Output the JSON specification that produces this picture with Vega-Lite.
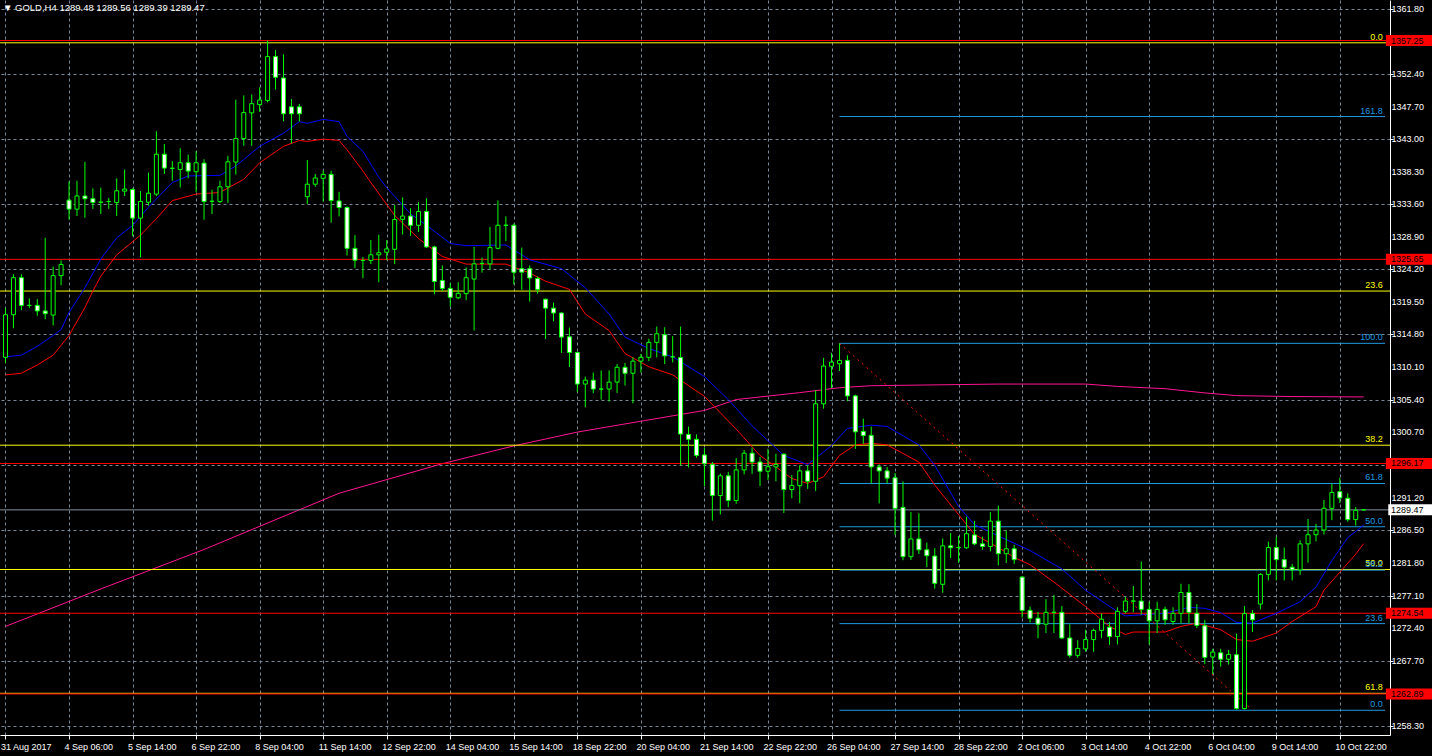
{
"$schema":"https://vega.github.io/schema/vega-lite/v6.json",
"width":1390,"height":735,
"autosize":{"type":"none"},
"padding":{"left":0,"top":0,"right":42,"bottom":21},
"background":"#000000",
"config":{"view":{"stroke":null}},
"title":{"text":"▼ GOLD,H4  1289.48 1289.56 1289.39 1289.47","anchor":"start","frame":"group","offset":-12,"dx":3,"color":"#ffffff","font":"Liberation Sans","fontSize":9.5,"fontWeight":"normal"},
"datasets":{
"candles":[
{"i":0,"o":1311.5,"h":1318.65,"l":1310.67,"c":1317.65},
{"i":1,"o":1317.65,"h":1323.5,"l":1315.7,"c":1323.0},
{"i":2,"o":1323.0,"h":1323.5,"l":1318.3,"c":1319.0},
{"i":3,"o":1319.0,"h":1320.0,"l":1318.6,"c":1319.0},
{"i":4,"o":1319.0,"h":1319.9,"l":1317.5,"c":1318.2},
{"i":5,"o":1318.2,"h":1328.76,"l":1317.0,"c":1317.8},
{"i":6,"o":1317.6,"h":1324.6,"l":1316.1,"c":1323.3},
{"i":7,"o":1323.3,"h":1325.5,"l":1321.9,"c":1324.9},
{"i":8,"o":1334.2,"h":1336.88,"l":1331.4,"c":1332.9},
{"i":9,"o":1332.9,"h":1337.0,"l":1331.9,"c":1334.8},
{"i":10,"o":1334.8,"h":1339.73,"l":1331.66,"c":1334.4},
{"i":11,"o":1334.4,"h":1335.9,"l":1332.94,"c":1333.85},
{"i":12,"o":1333.9,"h":1336.0,"l":1332.2,"c":1333.9},
{"i":13,"o":1334.0,"h":1334.5,"l":1332.94,"c":1334.0},
{"i":14,"o":1333.85,"h":1337.35,"l":1331.9,"c":1335.55},
{"i":15,"o":1335.5,"h":1338.63,"l":1334.8,"c":1335.8},
{"i":16,"o":1335.74,"h":1335.9,"l":1329.0,"c":1331.6},
{"i":17,"o":1331.6,"h":1335.5,"l":1325.96,"c":1334.0},
{"i":18,"o":1333.9,"h":1338.17,"l":1333.4,"c":1335.2},
{"i":19,"o":1335.07,"h":1344.15,"l":1334.8,"c":1340.83},
{"i":20,"o":1340.83,"h":1342.3,"l":1337.98,"c":1338.83},
{"i":21,"o":1338.8,"h":1339.83,"l":1337.0,"c":1338.8},
{"i":22,"o":1338.63,"h":1341.68,"l":1336.03,"c":1339.6},
{"i":23,"o":1339.6,"h":1340.77,"l":1337.35,"c":1338.4},
{"i":24,"o":1338.3,"h":1341.25,"l":1335.36,"c":1339.6},
{"i":25,"o":1339.55,"h":1340.1,"l":1331.37,"c":1333.99},
{"i":26,"o":1334.03,"h":1335.7,"l":1332.2,"c":1334.03},
{"i":27,"o":1333.99,"h":1337.0,"l":1333.8,"c":1336.13},
{"i":28,"o":1336.13,"h":1340.6,"l":1333.8,"c":1339.73},
{"i":29,"o":1339.7,"h":1348.7,"l":1337.88,"c":1343.1},
{"i":30,"o":1343.1,"h":1349.32,"l":1342.05,"c":1346.84},
{"i":31,"o":1346.8,"h":1349.46,"l":1342.05,"c":1348.13},
{"i":32,"o":1348.0,"h":1350.5,"l":1346.95,"c":1348.66},
{"i":33,"o":1348.6,"h":1357.25,"l":1348.32,"c":1354.93},
{"i":34,"o":1354.93,"h":1355.87,"l":1350.17,"c":1351.94},
{"i":35,"o":1351.84,"h":1355.26,"l":1345.6,"c":1346.67},
{"i":36,"o":1347.67,"h":1348.8,"l":1342.4,"c":1346.67},
{"i":37,"o":1347.67,"h":1348.1,"l":1345.57,"c":1346.67},
{"i":38,"o":1334.7,"h":1340.0,"l":1333.65,"c":1336.5},
{"i":39,"o":1336.5,"h":1337.97,"l":1336.13,"c":1337.4},
{"i":40,"o":1337.35,"h":1338.5,"l":1334.0,"c":1337.92},
{"i":41,"o":1337.92,"h":1338.45,"l":1330.94,"c":1334.13},
{"i":42,"o":1334.08,"h":1335.4,"l":1331.85,"c":1333.13},
{"i":43,"o":1333.13,"h":1333.3,"l":1326.2,"c":1327.24},
{"i":44,"o":1327.24,"h":1329.15,"l":1324.39,"c":1325.53},
{"i":45,"o":1325.48,"h":1326.0,"l":1322.92,"c":1325.48},
{"i":46,"o":1325.5,"h":1328.44,"l":1324.96,"c":1326.3},
{"i":47,"o":1326.3,"h":1329.19,"l":1322.35,"c":1326.6},
{"i":48,"o":1326.67,"h":1328.44,"l":1325.53,"c":1327.16},
{"i":49,"o":1327.1,"h":1333.5,"l":1324.96,"c":1331.4},
{"i":50,"o":1331.43,"h":1334.6,"l":1329.23,"c":1331.9},
{"i":51,"o":1331.9,"h":1333.04,"l":1329.05,"c":1330.57},
{"i":52,"o":1330.57,"h":1333.9,"l":1329.6,"c":1332.56},
{"i":53,"o":1332.56,"h":1334.46,"l":1327.3,"c":1327.44},
{"i":54,"o":1327.44,"h":1327.6,"l":1320.6,"c":1322.45},
{"i":55,"o":1322.6,"h":1324.77,"l":1321.07,"c":1321.45},
{"i":56,"o":1321.45,"h":1322.25,"l":1318.83,"c":1320.17},
{"i":57,"o":1320.1,"h":1322.35,"l":1319.89,"c":1320.74},
{"i":58,"o":1320.7,"h":1324.49,"l":1319.75,"c":1323.0},
{"i":59,"o":1322.8,"h":1327.44,"l":1315.37,"c":1325.0},
{"i":60,"o":1325.06,"h":1325.9,"l":1323.73,"c":1325.06},
{"i":61,"o":1325.0,"h":1330.33,"l":1324.16,"c":1327.34},
{"i":62,"o":1327.24,"h":1334.13,"l":1327.1,"c":1330.57},
{"i":63,"o":1330.57,"h":1331.85,"l":1328.29,"c":1330.57},
{"i":64,"o":1330.57,"h":1330.8,"l":1322.02,"c":1323.78},
{"i":65,"o":1324.3,"h":1327.34,"l":1321.26,"c":1323.8},
{"i":66,"o":1324.3,"h":1324.77,"l":1319.55,"c":1322.96},
{"i":67,"o":1322.88,"h":1323.2,"l":1320.68,"c":1321.31},
{"i":68,"o":1319.89,"h":1320.0,"l":1314.13,"c":1318.6},
{"i":69,"o":1318.6,"h":1319.4,"l":1316.7,"c":1317.9},
{"i":70,"o":1317.9,"h":1318.0,"l":1312.14,"c":1314.42},
{"i":71,"o":1314.47,"h":1315.8,"l":1310.1,"c":1312.2},
{"i":72,"o":1312.2,"h":1312.3,"l":1306.5,"c":1307.64},
{"i":73,"o":1307.64,"h":1308.72,"l":1304.3,"c":1308.2},
{"i":74,"o":1308.2,"h":1309.29,"l":1306.3,"c":1306.92},
{"i":75,"o":1306.92,"h":1309.6,"l":1305.4,"c":1306.92},
{"i":76,"o":1306.92,"h":1309.63,"l":1305.1,"c":1307.92},
{"i":77,"o":1307.92,"h":1310.53,"l":1306.36,"c":1310.06},
{"i":78,"o":1310.06,"h":1310.7,"l":1307.44,"c":1309.2},
{"i":79,"o":1309.2,"h":1311.5,"l":1304.87,"c":1310.95},
{"i":80,"o":1310.95,"h":1312.0,"l":1309.29,"c":1311.5},
{"i":81,"o":1311.5,"h":1314.19,"l":1310.95,"c":1313.66},
{"i":82,"o":1313.66,"h":1315.94,"l":1311.48,"c":1314.9},
{"i":83,"o":1314.76,"h":1315.84,"l":1310.53,"c":1311.71},
{"i":84,"o":1311.57,"h":1314.56,"l":1310.77,"c":1311.57},
{"i":85,"o":1311.48,"h":1315.94,"l":1295.9,"c":1300.42},
{"i":86,"o":1300.37,"h":1301.5,"l":1295.6,"c":1299.66},
{"i":87,"o":1299.66,"h":1300.37,"l":1297.0,"c":1297.33},
{"i":88,"o":1297.4,"h":1298.42,"l":1292.9,"c":1296.13},
{"i":89,"o":1296.04,"h":1296.38,"l":1287.92,"c":1291.54},
{"i":90,"o":1291.54,"h":1294.7,"l":1288.8,"c":1294.39},
{"i":91,"o":1294.39,"h":1294.96,"l":1289.87,"c":1290.83},
{"i":92,"o":1290.83,"h":1296.95,"l":1290.34,"c":1295.24},
{"i":93,"o":1295.24,"h":1298.14,"l":1294.58,"c":1297.66},
{"i":94,"o":1297.66,"h":1298.47,"l":1294.67,"c":1296.38},
{"i":95,"o":1296.38,"h":1297.1,"l":1292.9,"c":1295.05},
{"i":96,"o":1295.05,"h":1298.28,"l":1293.8,"c":1295.7},
{"i":97,"o":1295.67,"h":1297.56,"l":1293.6,"c":1296.04},
{"i":98,"o":1297.52,"h":1297.6,"l":1289.02,"c":1292.4},
{"i":99,"o":1292.4,"h":1294.5,"l":1291.15,"c":1293.0},
{"i":100,"o":1292.96,"h":1295.9,"l":1290.44,"c":1295.1},
{"i":101,"o":1295.1,"h":1295.9,"l":1292.5,"c":1293.6},
{"i":102,"o":1293.6,"h":1306.73,"l":1292.2,"c":1304.79},
{"i":103,"o":1304.79,"h":1311.42,"l":1304.08,"c":1310.24},
{"i":104,"o":1310.2,"h":1312.14,"l":1307.07,"c":1310.81},
{"i":105,"o":1310.57,"h":1313.52,"l":1309.53,"c":1311.05},
{"i":106,"o":1311.05,"h":1311.8,"l":1305.16,"c":1305.93},
{"i":107,"o":1305.93,"h":1306.1,"l":1298.28,"c":1300.74},
{"i":108,"o":1300.8,"h":1302.65,"l":1299.0,"c":1300.2},
{"i":109,"o":1300.23,"h":1301.5,"l":1293.3,"c":1295.67},
{"i":110,"o":1295.67,"h":1296.04,"l":1290.4,"c":1295.1},
{"i":111,"o":1295.1,"h":1295.67,"l":1293.3,"c":1294.05},
{"i":112,"o":1294.1,"h":1294.8,"l":1285.84,"c":1289.69},
{"i":113,"o":1289.83,"h":1293.58,"l":1282.2,"c":1282.71},
{"i":114,"o":1282.71,"h":1289.16,"l":1282.22,"c":1285.27},
{"i":115,"o":1285.27,"h":1288.97,"l":1283.08,"c":1283.7},
{"i":116,"o":1283.7,"h":1284.75,"l":1281.2,"c":1282.85},
{"i":117,"o":1282.8,"h":1283.94,"l":1278.09,"c":1278.86},
{"i":118,"o":1278.72,"h":1285.36,"l":1277.5,"c":1284.28},
{"i":119,"o":1284.28,"h":1286.13,"l":1282.5,"c":1284.0},
{"i":120,"o":1284.03,"h":1285.7,"l":1281.8,"c":1284.03},
{"i":121,"o":1284.0,"h":1288.49,"l":1283.85,"c":1286.03},
{"i":122,"o":1285.85,"h":1287.88,"l":1284.37,"c":1284.56},
{"i":123,"o":1284.56,"h":1285.6,"l":1283.7,"c":1284.18},
{"i":124,"o":1284.18,"h":1289.16,"l":1283.47,"c":1287.84},
{"i":125,"o":1287.84,"h":1290.1,"l":1281.45,"c":1283.14},
{"i":126,"o":1283.14,"h":1286.5,"l":1281.8,"c":1283.85},
{"i":127,"o":1283.85,"h":1284.42,"l":1281.66,"c":1282.28},
{"i":128,"o":1279.76,"h":1279.9,"l":1273.92,"c":1274.96},
{"i":129,"o":1274.96,"h":1275.5,"l":1273.2,"c":1273.82},
{"i":130,"o":1273.82,"h":1274.73,"l":1270.93,"c":1272.96},
{"i":131,"o":1272.96,"h":1276.58,"l":1271.69,"c":1274.67},
{"i":132,"o":1274.67,"h":1277.15,"l":1271.69,"c":1274.67},
{"i":133,"o":1274.67,"h":1275.58,"l":1270.8,"c":1270.97},
{"i":134,"o":1270.97,"h":1272.96,"l":1268.12,"c":1268.46},
{"i":135,"o":1268.46,"h":1270.64,"l":1268.12,"c":1269.46},
{"i":136,"o":1269.4,"h":1272.16,"l":1268.97,"c":1270.74},
{"i":137,"o":1270.74,"h":1272.3,"l":1268.97,"c":1272.07},
{"i":138,"o":1272.07,"h":1274.5,"l":1270.93,"c":1273.68},
{"i":139,"o":1272.54,"h":1273.3,"l":1269.97,"c":1271.17},
{"i":140,"o":1271.17,"h":1275.39,"l":1270.03,"c":1274.82},
{"i":141,"o":1274.82,"h":1276.9,"l":1274.53,"c":1276.3},
{"i":142,"o":1276.3,"h":1278.48,"l":1274.67,"c":1276.3},
{"i":143,"o":1276.3,"h":1282.04,"l":1274.34,"c":1275.1},
{"i":144,"o":1275.1,"h":1276.2,"l":1270.03,"c":1273.45},
{"i":145,"o":1273.45,"h":1276.2,"l":1271.69,"c":1275.1},
{"i":146,"o":1275.1,"h":1275.5,"l":1272.88,"c":1273.6},
{"i":147,"o":1273.35,"h":1275.39,"l":1272.88,"c":1274.53},
{"i":148,"o":1274.53,"h":1278.8,"l":1273.1,"c":1277.53},
{"i":149,"o":1277.53,"h":1278.72,"l":1273.1,"c":1274.67},
{"i":150,"o":1274.53,"h":1275.87,"l":1272.4,"c":1272.78},
{"i":151,"o":1272.73,"h":1273.59,"l":1267.2,"c":1268.17},
{"i":152,"o":1268.22,"h":1269.4,"l":1265.76,"c":1268.93},
{"i":153,"o":1268.83,"h":1269.4,"l":1266.84,"c":1267.9},
{"i":154,"o":1267.9,"h":1269.22,"l":1267.13,"c":1268.6},
{"i":155,"o":1268.55,"h":1271.6,"l":1260.63,"c":1260.77},
{"i":156,"o":1260.77,"h":1275.58,"l":1260.63,"c":1274.49},
{"i":157,"o":1274.49,"h":1275.0,"l":1271.83,"c":1273.59},
{"i":158,"o":1275.87,"h":1280.33,"l":1275.1,"c":1280.15},
{"i":159,"o":1280.15,"h":1284.88,"l":1279.28,"c":1284.03},
{"i":160,"o":1284.03,"h":1285.56,"l":1279.28,"c":1282.28},
{"i":161,"o":1282.28,"h":1284.03,"l":1279.28,"c":1281.19},
{"i":162,"o":1281.19,"h":1281.66,"l":1279.28,"c":1280.8},
{"i":163,"o":1280.8,"h":1285.07,"l":1280.09,"c":1284.56},
{"i":164,"o":1284.56,"h":1288.16,"l":1281.85,"c":1285.88},
{"i":165,"o":1285.88,"h":1287.45,"l":1284.93,"c":1286.55},
{"i":166,"o":1286.55,"h":1290.9,"l":1285.9,"c":1289.7},
{"i":167,"o":1289.69,"h":1293.25,"l":1287.98,"c":1291.97},
{"i":168,"o":1292.1,"h":1294.1,"l":1290.45,"c":1291.2},
{"i":169,"o":1291.15,"h":1291.87,"l":1287.74,"c":1288.07},
{"i":170,"o":1288.07,"h":1289.87,"l":1287.2,"c":1289.4},
{"i":171,"o":1289.48,"h":1289.56,"l":1289.39,"c":1289.47}
],
"blueMA":[
{"i":0,"v":1311.57},{"i":2,"v":1311.81},{"i":4,"v":1313.09},{"i":6,"v":1314.66},{"i":7,"v":1315.51},{"i":8,"v":1317.98},{"i":10,"v":1321.54},{"i":12,"v":1325.7},{"i":14,"v":1328.76},{"i":16,"v":1330.54},{"i":18,"v":1333.18},{"i":21,"v":1336.74},{"i":23,"v":1337.69},{"i":27,"v":1337.78},{"i":29,"v":1339.12},{"i":32,"v":1341.97},{"i":35,"v":1343.86},{"i":37,"v":1345.53},{"i":38,"v":1345.29},{"i":40,"v":1345.86},{"i":42,"v":1345.53},{"i":43,"v":1343.39},{"i":45,"v":1341.26},{"i":47,"v":1337.5},{"i":48,"v":1336.0},{"i":51,"v":1332.23},{"i":53,"v":1330.57},{"i":56,"v":1327.95},{"i":58,"v":1327.62},{"i":63,"v":1327.72},{"i":66,"v":1325.58},{"i":70,"v":1324.3},{"i":73,"v":1321.54},{"i":76,"v":1317.75},{"i":78,"v":1314.42},{"i":81,"v":1312.77},{"i":84,"v":1311.57},{"i":88,"v":1308.72},{"i":91,"v":1305.4},{"i":94,"v":1301.6},{"i":98,"v":1297.32},{"i":101,"v":1296.0},{"i":104,"v":1298.75},{"i":106,"v":1301.23},{"i":109,"v":1301.7},{"i":111,"v":1301.51},{"i":115,"v":1298.85},{"i":117,"v":1295.9},{"i":120,"v":1289.97},{"i":122,"v":1287.35},{"i":125,"v":1285.7},{"i":129,"v":1283.6},{"i":133,"v":1280.94},{"i":136,"v":1277.87},{"i":140,"v":1274.77},{"i":141,"v":1274.16},{"i":146,"v":1274.53},{"i":149,"v":1275.39},{"i":151,"v":1275.25},{"i":153,"v":1274.63},{"i":155,"v":1273.21},{"i":157,"v":1273.11},{"i":160,"v":1274.53},{"i":163,"v":1276.2},{"i":165,"v":1278.33},{"i":167,"v":1282.14},{"i":169,"v":1285.46},{"i":171,"v":1287.27}
],
"redMA":[
{"i":0,"v":1308.96},{"i":2,"v":1309.2},{"i":4,"v":1310.39},{"i":6,"v":1311.81},{"i":8,"v":1314.66},{"i":10,"v":1318.69},{"i":11,"v":1321.07},{"i":12,"v":1323.21},{"i":14,"v":1326.3},{"i":16,"v":1328.19},{"i":17,"v":1329.15},{"i":19,"v":1331.51},{"i":21,"v":1334.13},{"i":24,"v":1335.07},{"i":27,"v":1335.31},{"i":30,"v":1337.21},{"i":32,"v":1339.59},{"i":35,"v":1341.97},{"i":37,"v":1342.82},{"i":38,"v":1342.68},{"i":40,"v":1343.01},{"i":42,"v":1342.82},{"i":43,"v":1341.48},{"i":45,"v":1338.41},{"i":46,"v":1336.74},{"i":49,"v":1331.99},{"i":52,"v":1328.66},{"i":55,"v":1326.06},{"i":58,"v":1324.96},{"i":63,"v":1324.96},{"i":66,"v":1323.68},{"i":68,"v":1322.49},{"i":71,"v":1321.31},{"i":73,"v":1317.75},{"i":76,"v":1315.37},{"i":78,"v":1312.05},{"i":81,"v":1310.14},{"i":84,"v":1308.96},{"i":88,"v":1305.87},{"i":92,"v":1301.13},{"i":95,"v":1297.32},{"i":99,"v":1294.0},{"i":101,"v":1293.29},{"i":103,"v":1294.25},{"i":105,"v":1297.32},{"i":107,"v":1298.85},{"i":109,"v":1299.09},{"i":111,"v":1298.85},{"i":115,"v":1296.38},{"i":117,"v":1293.05},{"i":120,"v":1288.78},{"i":122,"v":1285.93},{"i":125,"v":1284.03},{"i":127,"v":1282.61},{"i":129,"v":1281.54},{"i":132,"v":1279.05},{"i":136,"v":1275.49},{"i":139,"v":1272.64},{"i":141,"v":1271.46},{"i":142,"v":1271.83},{"i":146,"v":1271.83},{"i":148,"v":1272.64},{"i":150,"v":1273.11},{"i":153,"v":1272.17},{"i":155,"v":1270.74},{"i":157,"v":1270.5},{"i":160,"v":1271.68},{"i":162,"v":1273.35},{"i":165,"v":1275.49},{"i":166,"v":1277.87},{"i":168,"v":1280.47},{"i":170,"v":1283.08},{"i":171,"v":1284.6}
],
"ma200":[
{"i":0,"v":1272.64},{"i":12,"v":1278.05},{"i":25,"v":1283.75},{"i":42,"v":1291.87},{"i":55,"v":1296.14},{"i":64,"v":1298.71},{"i":72,"v":1300.7},{"i":80,"v":1302.27},{"i":88,"v":1303.83},{"i":92,"v":1305.4},{"i":100,"v":1306.4},{"i":105,"v":1307.11},{"i":109,"v":1307.4},{"i":125,"v":1307.64},{"i":136,"v":1307.64},{"i":140,"v":1307.3},{"i":146,"v":1306.97},{"i":151,"v":1306.36},{"i":155,"v":1305.97},{"i":162,"v":1305.83},{"i":171,"v":1305.78}
],
"yfib":[{"lvl":"0.0","p":1356.92},{"lvl":"23.6","p":1321.07},{"lvl":"38.2","p":1298.81},{"lvl":"50.0","p":1280.86},{"lvl":"61.8","p":1262.98}],
"bfib":[{"lvl":"161.8","p":1346.27},{"lvl":"100.0","p":1313.52},{"lvl":"61.8","p":1293.28},{"lvl":"50.0","p":1287.03},{"lvl":"38.2","p":1280.77},{"lvl":"23.6","p":1273.04},{"lvl":"0.0","p":1260.53}],
"levels":[{"p":1357.25},{"p":1325.65},{"p":1296.17},{"p":1274.54},{"p":1262.89}],
"trend":[{"i":105,"p":1313.52},{"i":157,"p":1260.53}],
"price":[{"p":1289.47}],
"yticks":[{"p":1361.8},{"p":1352.4},{"p":1347.7},{"p":1343.0},{"p":1338.3},{"p":1333.6},{"p":1328.9},{"p":1324.2},{"p":1319.5},{"p":1314.8},{"p":1310.1},{"p":1305.4},{"p":1300.7},{"p":1291.2},{"p":1286.5},{"p":1281.8},{"p":1277.1},{"p":1272.4},{"p":1267.7},{"p":1258.3}]
},
"layer":[
{"data":{"name":"ma200"},"mark":{"type":"line","color":"#ff1493","strokeWidth":1,"clip":true},
 "encoding":{
  "x":{"field":"i","type":"quantitative","scale":{"domain":[-0.0625,173.6875],"nice":false,"zero":false},
   "axis":{"orient":"bottom","title":null,"values":[0,4,8,12,16,20,24,28,32,36,40,44,48,52,56,60,64,68,72,76,80,84,88,92,96,100,104,108,112,116,120,124,128,132,136,140,144,148,152,156,160,164,168,172],
    "labelExpr":"datum.value % 8 == 0 ? ['31 Aug 2017','4 Sep 06:00','5 Sep 14:00','6 Sep 22:00','8 Sep 04:00','11 Sep 14:00','12 Sep 22:00','14 Sep 04:00','15 Sep 14:00','18 Sep 22:00','20 Sep 04:00','21 Sep 14:00','22 Sep 22:00','26 Sep 04:00','27 Sep 14:00','28 Sep 22:00','2 Oct 06:00','3 Oct 14:00','4 Oct 22:00','6 Oct 04:00','9 Oct 14:00','10 Oct 22:00'][datum.value/8] : ''",
    "grid":true,"gridColor":"#778899","gridDash":[3,3],"gridWidth":1,"tickSize":4,"tickColor":"#ffffff","domainColor":"#ffffff","labelColor":"#ffffff","labelAlign":"left","labelBaseline":"top","labelPadding":3,"labelOffset":-5,"labelFont":"Liberation Sans","labelFontSize":9,"labelOverlap":false,"labelFlush":false,"labelBound":false}},
  "y":{"field":"v","type":"quantitative","scale":{"domain":[1257.68,1362.38],"nice":false,"zero":false},
   "axis":{"orient":"right","title":null,"values":[1361.8,1357.1,1352.4,1347.7,1343.0,1338.3,1333.6,1328.9,1324.2,1319.5,1314.8,1310.1,1305.4,1300.7,1296.0,1291.2,1286.5,1281.8,1277.1,1272.4,1267.7,1263.0,1258.3],
    "labels":false,"grid":true,"gridColor":"#778899","gridDash":[3,3],"gridWidth":1,"tickSize":3,"tickColor":"#ffffff","domainColor":"#ffffff"}}
 }},
{"data":{"name":"yfib"},"mark":{"type":"rule","color":"#ffff00","strokeWidth":1},
 "encoding":{"y":{"field":"p","type":"quantitative"}}},
{"data":{"name":"levels"},"mark":{"type":"rule","color":"#ff0000","strokeWidth":1},
 "encoding":{"y":{"field":"p","type":"quantitative"}}},
{"data":{"name":"bfib"},"mark":{"type":"rule","color":"#1e9be0","strokeWidth":1},
 "encoding":{"x":{"datum":105,"type":"quantitative"},"x2":{"datum":173.6875},"y":{"field":"p","type":"quantitative"}}},
{"data":{"name":"price"},"mark":{"type":"rule","color":"#8090a0","strokeWidth":1},
 "encoding":{"y":{"field":"p","type":"quantitative"}}},
{"data":{"name":"blueMA"},"mark":{"type":"line","color":"#0000ff","strokeWidth":1,"clip":true},
 "encoding":{"x":{"field":"i","type":"quantitative"},"y":{"field":"v","type":"quantitative"}}},
{"data":{"name":"redMA"},"mark":{"type":"line","color":"#ff0000","strokeWidth":1,"clip":true},
 "encoding":{"x":{"field":"i","type":"quantitative"},"y":{"field":"v","type":"quantitative"}}},
{"data":{"name":"trend"},"mark":{"type":"line","color":"#ff0000","strokeWidth":1,"strokeDash":[2,4]},
 "encoding":{"x":{"field":"i","type":"quantitative"},"y":{"field":"p","type":"quantitative"}}},
{"data":{"name":"candles"},"mark":{"type":"rule","color":"#00ff00","strokeWidth":1,"clip":true},
 "encoding":{"x":{"field":"i","type":"quantitative"},"y":{"field":"l","type":"quantitative"},"y2":{"field":"h"}}},
{"data":{"name":"candles"},"mark":{"type":"bar","orient":"vertical","size":4,"stroke":"#00ff00","strokeWidth":1,"clip":true},
 "encoding":{"x":{"field":"i","type":"quantitative"},"y":{"field":"o","type":"quantitative"},"y2":{"field":"c"},
  "fill":{"condition":{"test":"datum.c < datum.o","value":"#ffffff"},"value":"#000000"}}},
{"data":{"name":"yfib"},"mark":{"type":"text","color":"#ffff00","font":"Liberation Sans","fontSize":9,"align":"right","baseline":"bottom","dy":-1},
 "encoding":{"x":{"datum":173.4,"type":"quantitative"},"y":{"field":"p","type":"quantitative"},"text":{"field":"lvl"}}},
{"data":{"name":"bfib"},"mark":{"type":"text","color":"#1e9be0","font":"Liberation Sans","fontSize":9,"align":"right","baseline":"bottom","dy":-1},
 "encoding":{"x":{"datum":173.4,"type":"quantitative"},"y":{"field":"p","type":"quantitative"},"text":{"field":"lvl"}}},
{"data":{"name":"yticks"},"mark":{"type":"text","color":"#ffffff","font":"Liberation Sans","fontSize":9,"align":"left","baseline":"middle"},
 "encoding":{"x":{"datum":174.5,"type":"quantitative"},"y":{"field":"p","type":"quantitative"},"text":{"field":"p","type":"quantitative","format":".2f"}}},
{"data":{"name":"levels"},"mark":{"type":"bar","orient":"horizontal","size":11,"color":"#ff0000"},
 "encoding":{"x":{"datum":173.8,"type":"quantitative"},"x2":{"datum":180},"y":{"field":"p","type":"quantitative"}}},
{"data":{"name":"levels"},"mark":{"type":"text","color":"#000000","font":"Liberation Sans","fontSize":9,"align":"left","baseline":"middle"},
 "encoding":{"x":{"datum":174.45,"type":"quantitative"},"y":{"field":"p","type":"quantitative"},"text":{"field":"p","type":"quantitative","format":".2f"}}},
{"data":{"name":"price"},"mark":{"type":"bar","orient":"horizontal","size":11,"color":"#ffffff"},
 "encoding":{"x":{"datum":174.1,"type":"quantitative"},"x2":{"datum":180},"y":{"field":"p","type":"quantitative"}}},
{"data":{"name":"price"},"mark":{"type":"text","color":"#000000","font":"Liberation Sans","fontSize":9,"align":"left","baseline":"middle"},
 "encoding":{"x":{"datum":174.45,"type":"quantitative"},"y":{"field":"p","type":"quantitative"},"text":{"field":"p","type":"quantitative","format":".2f"}}}
]
}
